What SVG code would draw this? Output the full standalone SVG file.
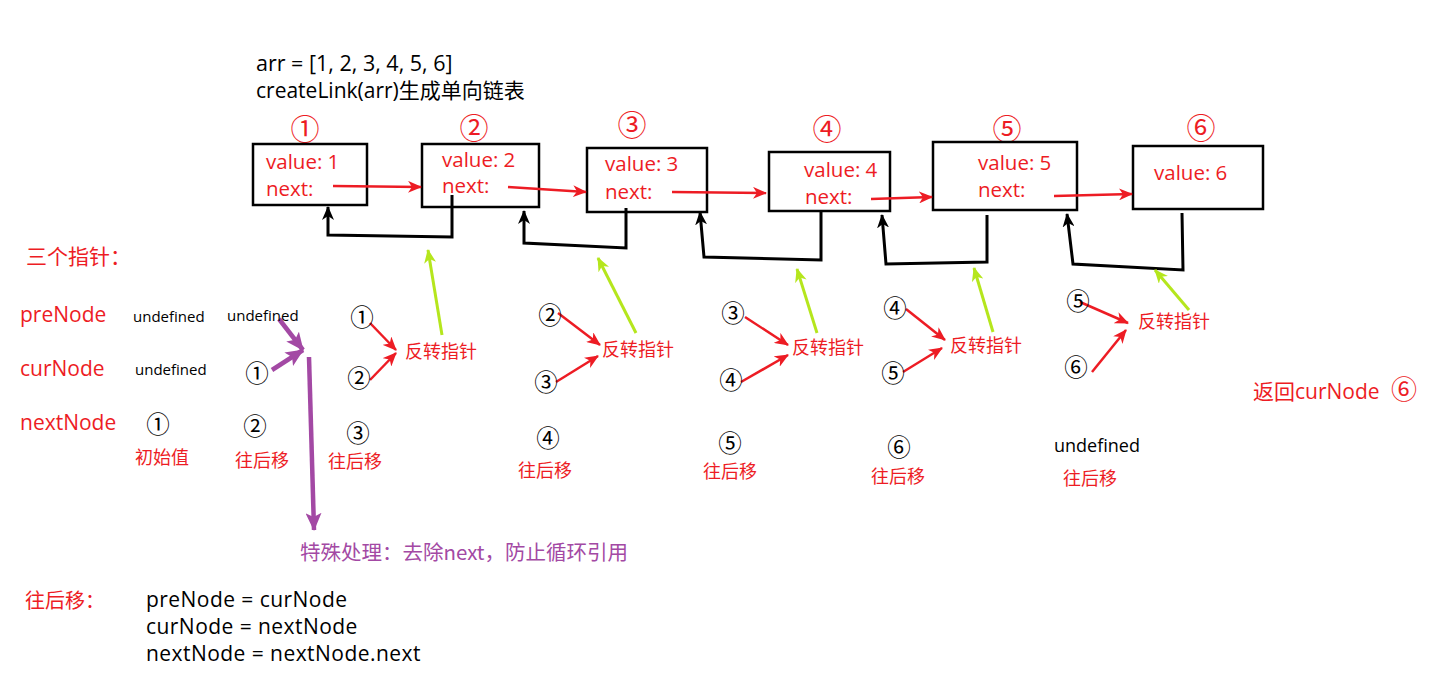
<svg xmlns="http://www.w3.org/2000/svg" width="1437" height="681" viewBox="0 0 1437 681">
<style>
.box{fill:#fff;stroke:#000;stroke-width:2.5}
.lat{font-family:"Open Sans","Noto Sans CJK SC",sans-serif}
.cjk{font-family:"Noto Sans CJK SC","Open Sans",sans-serif}
.red{fill:#ed1c24}
.blk{fill:#000}
.pur{fill:#a349a4}
.bv{font-size:20.5px}
.cn{font-family:"Noto Sans CJK SC",sans-serif;text-anchor:middle;dominant-baseline:central}
.cr{font-size:29px;fill:#ed1c24}
.cb{font-size:23.5px;fill:#000}
.code{font-size:21px;letter-spacing:0.45px}
.rl{fill:none;stroke:#ed1c24;stroke-width:2.5;marker-end:url(#mr)}
.bl{fill:none;stroke:#000;stroke-width:3;marker-end:url(#mb)}
.gl{fill:none;stroke:#b5e61d;stroke-width:3;marker-end:url(#mg)}
.pl{fill:none;stroke:#a349a4;stroke-width:4.5;marker-end:url(#mp)}
</style>
<defs>
<marker id="mr" markerUnits="userSpaceOnUse" viewBox="0 0 14 12" markerWidth="14" markerHeight="12" refX="13" refY="6" orient="auto"><path d="M0,0 L14,6 L0,12 L4,6 z" fill="#ed1c24"/></marker>
<marker id="mb" markerUnits="userSpaceOnUse" viewBox="0 0 14 12" markerWidth="14" markerHeight="12" refX="13" refY="6" orient="auto"><path d="M0,0 L14,6 L0,12 L4,6 z" fill="#000"/></marker>
<marker id="mg" markerUnits="userSpaceOnUse" viewBox="0 0 14 12" markerWidth="14" markerHeight="12" refX="13" refY="6" orient="auto"><path d="M0,0 L14,6 L0,12 L4,6 z" fill="#b5e61d"/></marker>
<marker id="mp" markerUnits="userSpaceOnUse" viewBox="0 0 18 16" markerWidth="18" markerHeight="16" refX="17" refY="8" orient="auto"><path d="M0,0 L18,8 L0,16 L4,8 z" fill="#a349a4"/></marker>
</defs>

<g id="header">
<text class="lat blk" x="256" y="71" font-size="21.5">arr = [1, 2, 3, 4, 5, 6]</text>
<text class="lat blk" x="256" y="98" font-size="21">createLink(arr)生成单向链表</text>
</g>

<g id="node1">
<text class="cn cr" x="305" y="127">①</text>
<rect class="box" x="253" y="144" width="114" height="61"/>
<text class="lat red bv" x="266" y="169">value: 1</text>
<text class="lat red bv" x="266" y="196">next:</text>
</g>
<g id="node2">
<text class="cn cr" x="474" y="126">②</text>
<rect class="box" x="422" y="144" width="117" height="63"/>
<text class="lat red bv" x="442" y="167">value: 2</text>
<text class="lat red bv" x="442" y="193">next:</text>
</g>
<g id="node3">
<text class="cn cr" x="632" y="123">③</text>
<rect class="box" x="587" y="148" width="120" height="64"/>
<text class="lat red bv" x="605" y="171">value: 3</text>
<text class="lat red bv" x="605" y="199">next:</text>
</g>
<g id="node4">
<text class="cn cr" x="827" y="127">④</text>
<rect class="box" x="769" y="152" width="121" height="59"/>
<text class="lat red bv" x="804" y="177">value: 4</text>
<text class="lat red bv" x="805" y="204">next:</text>
</g>
<g id="node5">
<text class="cn cr" x="1007" y="127">⑤</text>
<rect class="box" x="933" y="142" width="144" height="68"/>
<text class="lat red bv" x="978" y="170">value: 5</text>
<text class="lat red bv" x="978" y="197">next:</text>
</g>
<g id="node6">
<text class="cn cr" x="1201" y="126">⑥</text>
<rect class="box" x="1133" y="146" width="130" height="63"/>
<text class="lat red bv" x="1154" y="180">value: 6</text>
</g>

<g id="connectors">
<line class="rl" x1="333" y1="186" x2="421" y2="187"/>
<line class="rl" x1="508" y1="187" x2="586" y2="192"/>
<line class="rl" x1="672" y1="192" x2="766" y2="193"/>
<line class="rl" x1="871" y1="199" x2="932" y2="197"/>
<line class="rl" x1="1054" y1="196" x2="1132" y2="194"/>

<polyline class="bl" points="452,195 452,237 328,235 328,207"/>
<polyline class="bl" points="626,208 626,248 524,243 524,211"/>
<polyline class="bl" points="821,212 821,260 704,257 700,212"/>
<polyline class="bl" points="987,215 987,262 886,264 882,215"/>
<polyline class="bl" points="1182,213 1183,270 1073,264 1067,214"/>

<line class="gl" x1="442" y1="335" x2="428" y2="250"/>
<line class="gl" x1="636" y1="333" x2="598" y2="258"/>
<line class="gl" x1="817" y1="333" x2="797" y2="269"/>
<line class="gl" x1="993" y1="332" x2="974" y2="268"/>
<line class="gl" x1="1189" y1="310" x2="1155" y2="270"/>

<line class="rl" x1="370" y1="323" x2="396" y2="350"/>
<line class="rl" x1="370" y1="380" x2="396" y2="353"/>
<line class="rl" x1="558" y1="313" x2="600" y2="345"/>
<line class="rl" x1="556" y1="382" x2="598" y2="356"/>
<line class="rl" x1="745" y1="317" x2="788" y2="345"/>
<line class="rl" x1="741" y1="382" x2="788" y2="355"/>
<line class="rl" x1="906" y1="309" x2="945" y2="340"/>
<line class="rl" x1="903" y1="372" x2="942" y2="348"/>
<line class="rl" x1="1080" y1="302" x2="1128" y2="323"/>
<line class="rl" x1="1092" y1="372" x2="1126" y2="330"/>

<line class="pl" x1="279" y1="319" x2="303" y2="350"/>
<line class="pl" x1="272" y1="370" x2="303" y2="350"/>
<line class="pl" x1="309" y1="357" x2="314" y2="530"/>
</g>

<g id="pointers">
<text class="cjk red" x="26" y="264" font-size="21">三个指针：</text>
<text class="lat red" x="20" y="322" font-size="21">preNode</text>
<text class="lat red" x="20" y="376" font-size="21">curNode</text>
<text class="lat red" x="20" y="430" font-size="21">nextNode</text>
</g>

<g id="step0">
<text class="lat blk" x="133" y="322" font-size="15">undefined</text>
<text class="lat blk" x="135" y="375" font-size="15">undefined</text>
<text class="cn cb" x="158" y="423">①</text>
<text class="cjk red" x="135" y="464" font-size="18">初始值</text>
</g>
<g id="step1">
<text class="lat blk" x="227" y="321" font-size="15">undefined</text>
<text class="cn cb" x="257" y="372">①</text>
<text class="cn cb" x="255" y="425">②</text>
<text class="cjk red" x="235" y="467" font-size="18">往后移</text>
</g>
<g id="step2">
<text class="cn cb" x="362" y="316">①</text>
<text class="cn cb" x="359" y="377">②</text>
<text class="cn cb" x="358" y="432">③</text>
<text class="cjk red" x="405" y="358" font-size="18">反转指针</text>
<text class="cjk red" x="328" y="468" font-size="18">往后移</text>
</g>
<g id="step3">
<text class="cn cb" x="550" y="314">②</text>
<text class="cn cb" x="546" y="381">③</text>
<text class="cn cb" x="548" y="437">④</text>
<text class="cjk red" x="602" y="356" font-size="18">反转指针</text>
<text class="cjk red" x="518" y="477" font-size="18">往后移</text>
</g>
<g id="step4">
<text class="cn cb" x="733" y="312">③</text>
<text class="cn cb" x="731" y="379">④</text>
<text class="cn cb" x="730" y="442">⑤</text>
<text class="cjk red" x="792" y="354" font-size="18">反转指针</text>
<text class="cjk red" x="703" y="478" font-size="18">往后移</text>
</g>
<g id="step5">
<text class="cn cb" x="895" y="307">④</text>
<text class="cn cb" x="893" y="372">⑤</text>
<text class="cn cb" x="899" y="446">⑥</text>
<text class="cjk red" x="950" y="352" font-size="18">反转指针</text>
<text class="cjk red" x="871" y="483" font-size="18">往后移</text>
</g>
<g id="step6">
<text class="cn cb" x="1078" y="300">⑤</text>
<text class="cn cb" x="1076" y="366">⑥</text>
<text class="cjk red" x="1138" y="328" font-size="18">反转指针</text>
<text class="lat blk" x="1054" y="452" font-size="18">undefined</text>
<text class="cjk red" x="1063" y="485" font-size="18">往后移</text>
</g>

<g id="result">
<text class="lat red" x="1253" y="399" font-size="21">返回curNode <tspan font-family="Noto Sans CJK SC, sans-serif" x="1391" font-size="26">⑥</tspan></text>
</g>

<g id="note">
<text class="cjk pur" x="300" y="560" font-size="20.5">特殊处理：去除next，防止循环引用</text>
</g>

<g id="legend">
<text class="cjk red" x="25" y="608" font-size="20">往后移：</text>
<text class="lat blk code" x="146" y="607">preNode = curNode</text>
<text class="lat blk code" x="146" y="634">curNode = nextNode</text>
<text class="lat blk code" x="146" y="661">nextNode = nextNode.next</text>
</g>
</svg>
